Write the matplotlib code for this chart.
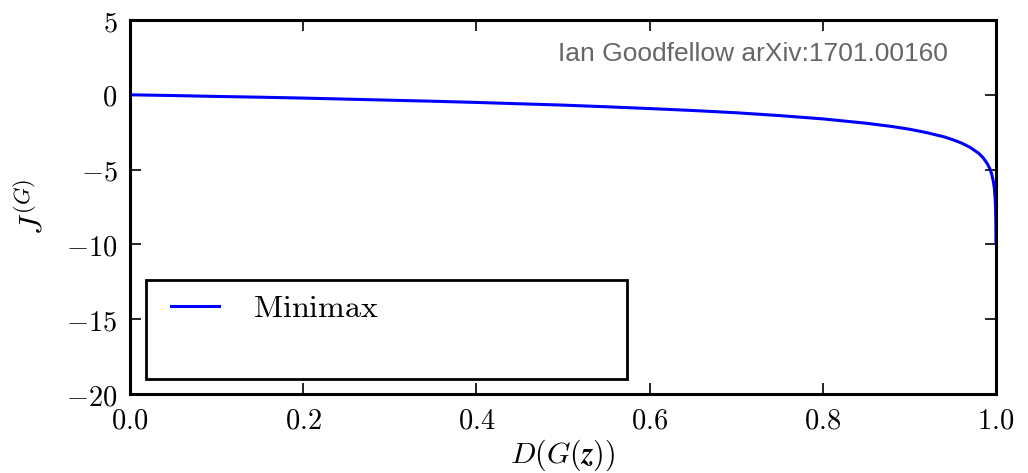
import matplotlib
matplotlib.use("Agg")
import matplotlib.pyplot as plt
from matplotlib.lines import Line2D
from matplotlib.legend_handler import HandlerLine2D
from matplotlib.ticker import FuncFormatter

# D(G(z)) and J(G)
d_vals = [0.0, 0.05, 0.1, 0.15, 0.2, 0.25, 0.3, 0.35, 0.4, 0.45, 0.5, 0.55, 0.6,
          0.65, 0.7, 0.75, 0.8, 0.85, 0.88, 0.9, 0.92, 0.94, 0.95, 0.96, 0.97,
          0.98, 0.985, 0.99, 0.993, 0.995, 0.997, 0.998, 0.999, 0.9995,
          0.9998, 0.9999, 0.99995]
j_vals = [0.0, -0.05, -0.11, -0.16, -0.22, -0.29, -0.36, -0.43, -0.51, -0.6,
          -0.69, -0.8, -0.92, -1.05, -1.2, -1.39, -1.61, -1.9, -2.12, -2.3,
          -2.53, -2.81, -3.0, -3.22, -3.51, -3.91, -4.2, -4.61, -4.96, -5.3,
          -5.81, -6.21, -6.91, -7.6, -8.52, -9.21, -9.9]
series_label = "Minimax"
credit = "Ian Goodfellow arXiv:1701.00160"
x_ticks = [0.0, 0.2, 0.4, 0.6, 0.8, 1.0]
y_ticks = [5, 0, -5, -10, -15, -20]

plt.rcParams["mathtext.fontset"] = "cm"

fig = plt.figure(figsize=(10.28, 4.73), dpi=100)
ax = fig.add_axes([130 / 1028, 1 - 394 / 473, 866 / 1028, 374 / 473])

line, = ax.plot(d_vals, j_vals, color="blue", lw=2.2, label=series_label)

ax.set_xlim(0, 1)
ax.set_ylim(-20, 5)
ax.set_xticks(x_ticks)
ax.set_yticks(y_ticks)
ax.xaxis.set_major_formatter(FuncFormatter(lambda v, p: "$%.1f$" % v))
ax.yaxis.set_major_formatter(FuncFormatter(lambda v, p: "$%d$" % v))
ax.tick_params(direction="in", length=8, width=1.2, labelsize=20.5,
               top=True, right=True, pad=9)
for s in ax.spines.values():
    s.set_linewidth(2.2)

ax.set_xlabel(r"$D(G(\mathbfit{z}))$", fontsize=21.5, labelpad=2)
ax.set_ylabel(r"$J^{(G)}$", fontsize=23, labelpad=12)

ax.text(0.945, 0.91, credit, transform=ax.transAxes, ha="right", va="center",
        color="#666666", fontsize=19, family="Liberation Sans")

# second, empty row keeps the tall legend box of the original figure
blank = Line2D([], [], color="none")
leg = ax.legend(handles=[line, blank], labels=[r"$\mathrm{" + series_label + "}$", ""],
                loc="lower left", bbox_to_anchor=(0.0185, 0.040, 0.5555, 0.26),
                mode="expand", borderaxespad=0, fontsize=23, handlelength=1.9,
                handletextpad=1.05, borderpad=0.4, labelspacing=0.35,
                handler_map={line: HandlerLine2D(xpad=0.375)},
                fancybox=False, framealpha=1)
leg.get_frame().set_edgecolor("black")
leg.get_frame().set_linewidth(2.0)

fig.savefig("out.png", dpi=100)
